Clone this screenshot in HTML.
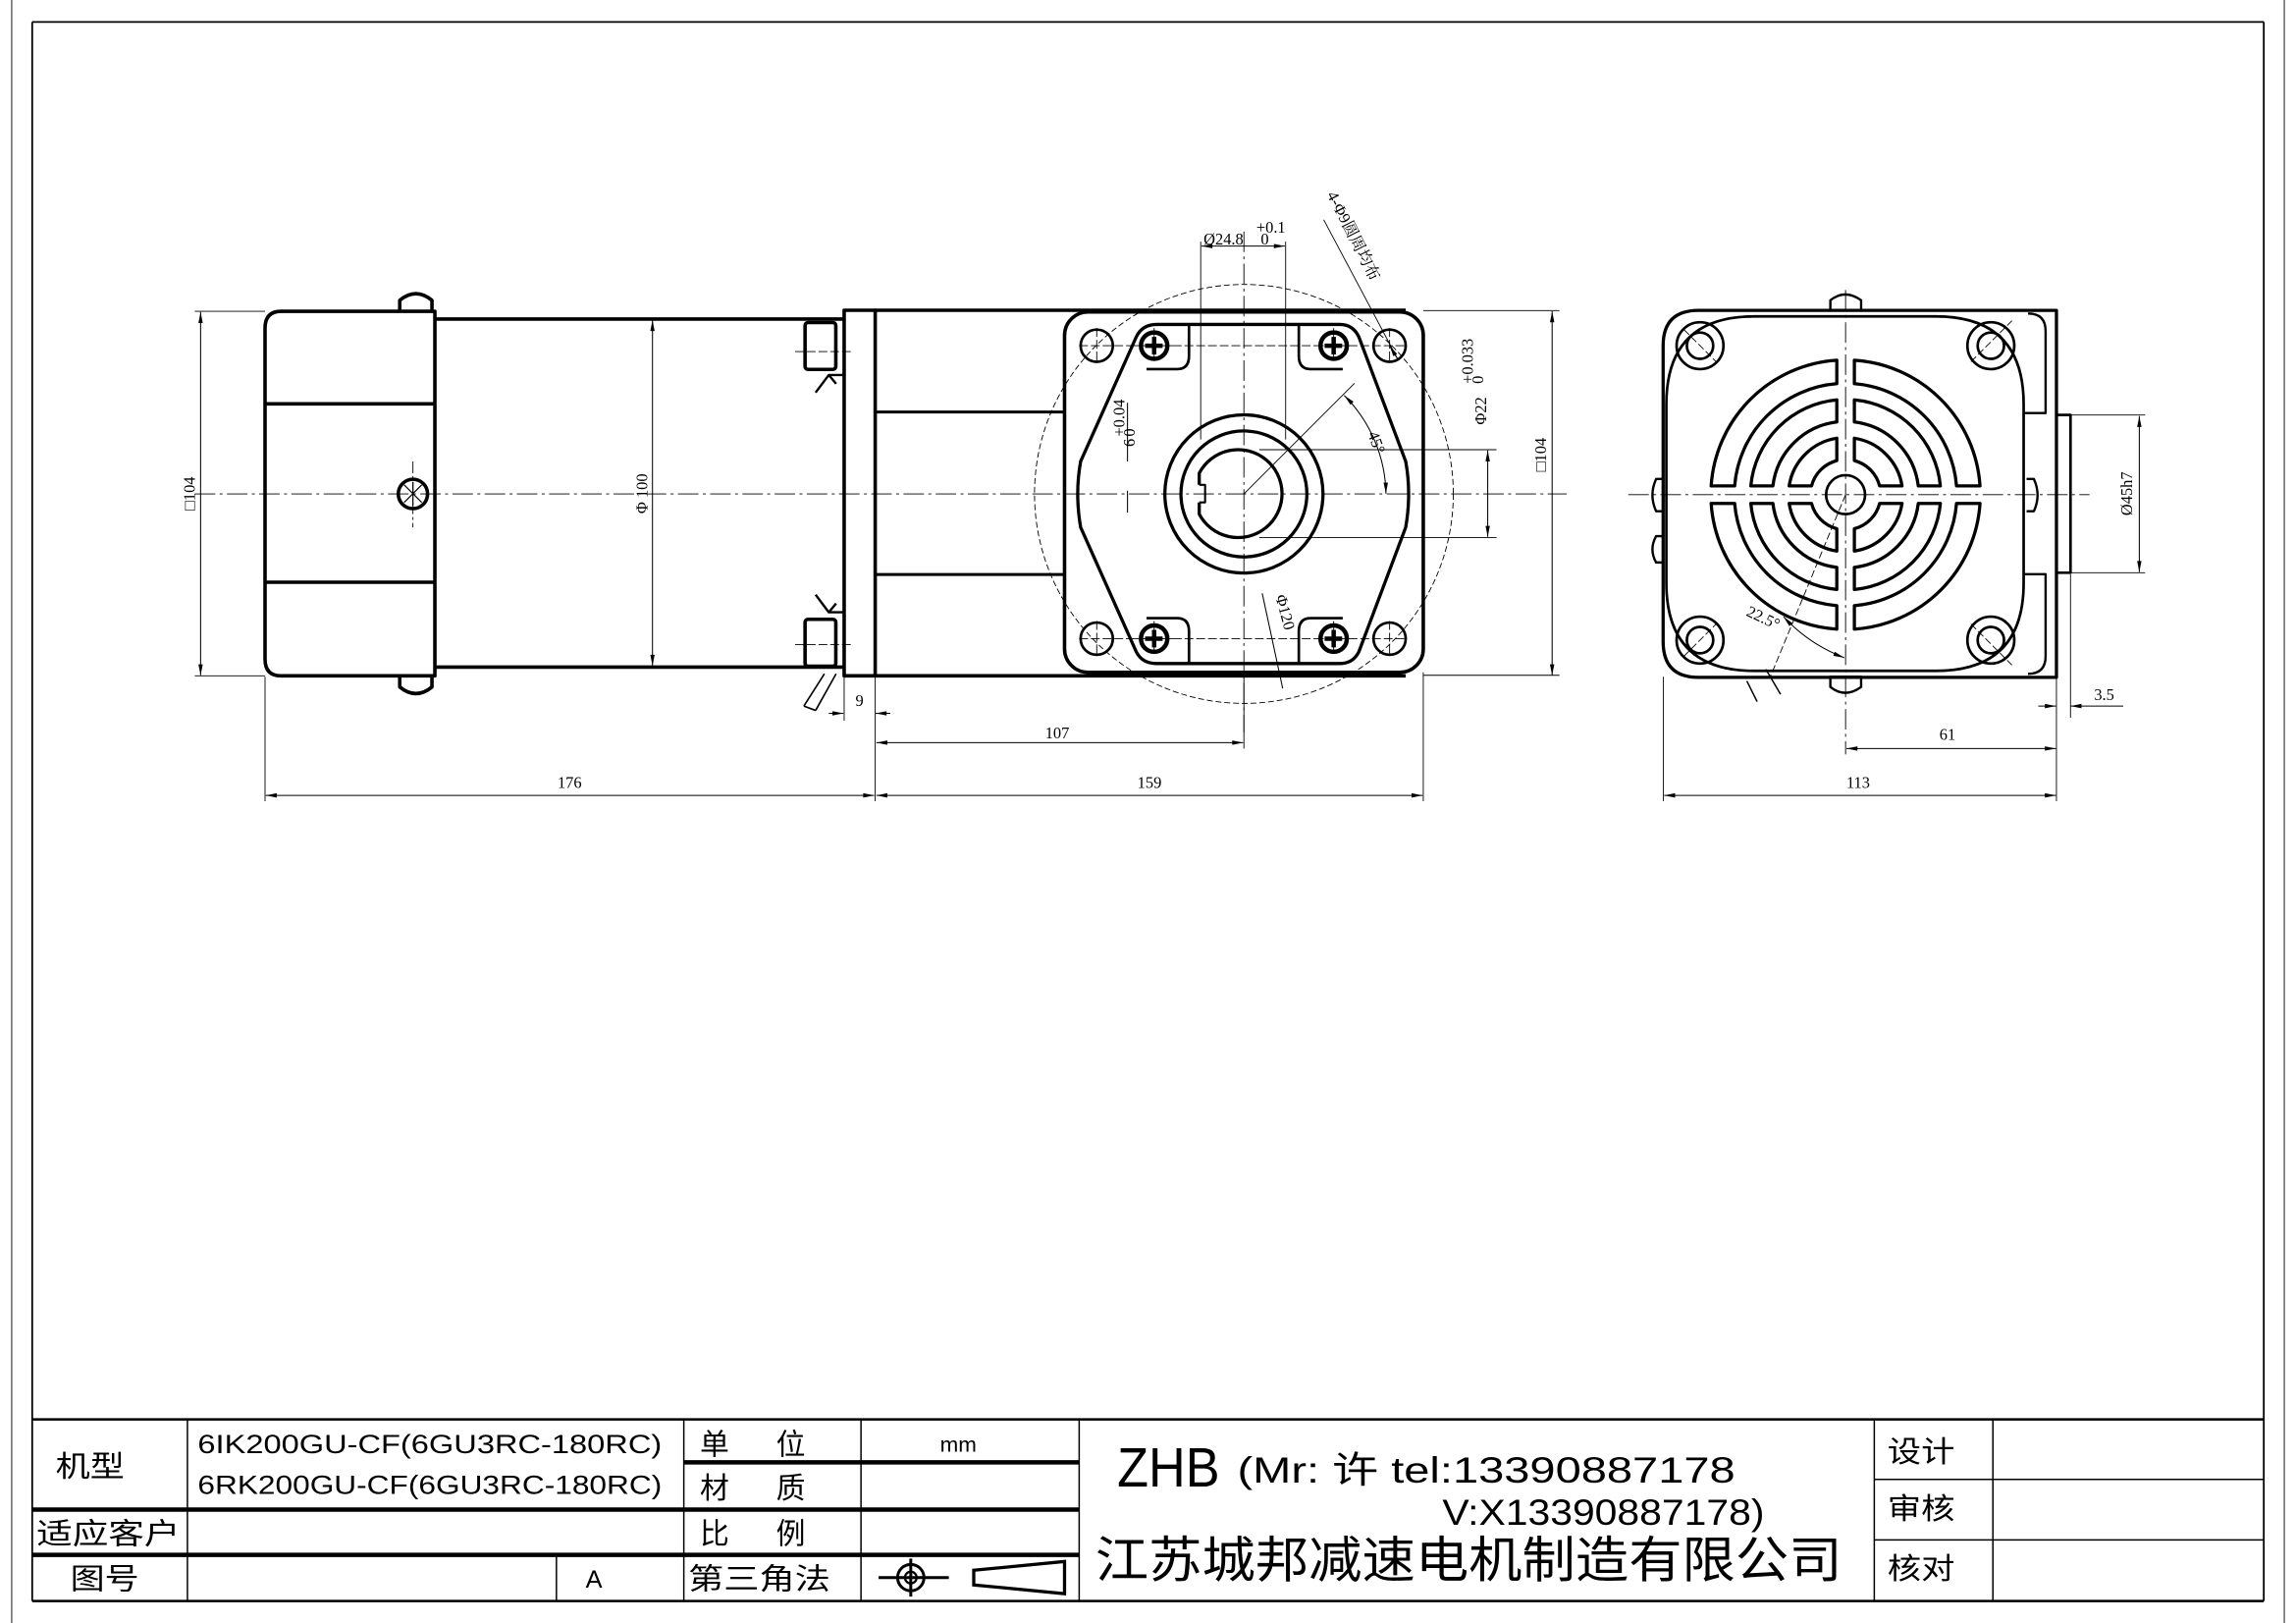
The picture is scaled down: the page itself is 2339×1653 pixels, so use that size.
<!DOCTYPE html>
<html><head><meta charset="utf-8"><style>
html,body{margin:0;padding:0;background:#fff;}
svg{display:block;}
text{font-family:"Liberation Sans","Noto Sans CJK SC",sans-serif;fill:#000;}
.dim{font-family:"Liberation Serif","Noto Serif CJK SC",serif;font-size:11px;}
</style></head><body>
<svg width="2339" height="1653" viewBox="0 0 1568 1108" preserveAspectRatio="none" xmlns="http://www.w3.org/2000/svg">
<defs>
<marker id="ar" viewBox="0 0 10 4" refX="10" refY="2" markerWidth="8" markerHeight="3" orient="auto-start-reverse" markerUnits="userSpaceOnUse"><path d="M0,0L10,2L0,4z" fill="#000"/></marker>
</defs>
<rect width="1568" height="1108" fill="#fff"/>
<g fill="none" stroke="#000">
<line x1="22" y1="15" x2="1546" y2="15" stroke-width="1.2"/>
<line x1="22" y1="15" x2="22" y2="1093" stroke-width="1.2"/>
<line x1="1546" y1="15" x2="1546" y2="1093" stroke-width="1.2"/>
<line x1="8" y1="0" x2="8" y2="1108" stroke-width="0.6"/>
<line x1="1560" y1="0" x2="1560" y2="1108" stroke-width="0.6"/>
</g>

<!-- LEFT VIEW -->
<g fill="none" stroke="#000" stroke-width="2.4" stroke-linejoin="round">
<path d="M192,212.5 L297,212.5 L297,461.4 L192,461.4 Q181,461.4 181,450 L181,224 Q181,212.5 192,212.5 Z"/>
<path d="M181,275.7 L297,275.7 M181,397.5 L297,397.5"/>
<path d="M273,212 L273,205 Q284,196 295,205 L295,212"/>
<path d="M273,462 L273,469 Q284,478 295,469 L295,462"/>
<circle cx="282" cy="337.2" r="10"/>
<path d="M297,217.8 L577,217.8 M297,455.4 L577,455.4"/>
<rect x="549.8" y="220.2" width="21" height="32" rx="2"/>
<rect x="549.8" y="422.8" width="21" height="32" rx="2"/>
<path d="M557,268 L566,256 L577,256 M566,256 L571,262" stroke-width="1.6"/>
<path d="M557,406 L566,418 L577,418 M566,418 L571,412" stroke-width="1.6"/>
<rect x="576.5" y="211.8" width="21.2" height="249.6"/>
<path d="M597.7,211.8 L960,211.8 M597.7,461.4 L960,461.4"/>
<path d="M597.7,281.3 L727,281.3 M597.7,392.2 L727,392.2" stroke-width="2"/>
<rect x="727" y="213" width="245" height="246" rx="16"/>
<path d="M790,221.5 L915,221.5 Q924,221.5 928,230 L960,315 Q964,337 960,360 L928,445 Q924,453 915,453 L790,453 Q780,453 776,445 L738,360 Q734,337 738,315 L776,230 Q780,221.5 790,221.5 Z" stroke-width="2.2"/>
<path d="M812,222 L812,243 Q812,252 804,252 L783,252" stroke-width="1.8"/>
<path d="M887,222 L887,243 Q887,252 895,252 L917,252" stroke-width="1.8"/>
<path d="M812,452 L812,431 Q812,422 804,422 L783,422" stroke-width="1.8"/>
<path d="M887,452 L887,431 Q887,422 895,422 L917,422" stroke-width="1.8"/>
<circle cx="749" cy="236" r="11" stroke-width="1.8"/>
<circle cx="949" cy="236" r="11" stroke-width="1.8"/>
<circle cx="749" cy="436" r="11" stroke-width="1.8"/>
<circle cx="949" cy="436" r="11" stroke-width="1.8"/>
<circle cx="849.5" cy="337.2" r="54" stroke-width="2.2"/>
<circle cx="849.5" cy="337.2" r="43" stroke-width="2.2"/>
<path d="M819,331 L819,323 A30,30 0 1,1 819,351 L819,343" stroke-width="2.2"/>
<path d="M819,331 L823,331 L823,343 L819,343" stroke-width="1.4"/>
</g>
<g stroke="#000" fill="none">
<circle cx="788.2" cy="236" r="9" stroke-width="3"/>
<circle cx="910.8" cy="236" r="9" stroke-width="3"/>
<circle cx="788.2" cy="436" r="9" stroke-width="3"/>
<circle cx="910.8" cy="436" r="9" stroke-width="3"/>
<path d="M782,236h12M788.2,230v12M904.6,236h12M910.8,230v12M782,436h12M788.2,430v12M904.6,436h12M910.8,430v12" stroke-width="3"/>
</g>
<g fill="none" stroke="#000" stroke-width="0.6">
<line x1="133" y1="337.2" x2="1070" y2="337.2" stroke-dasharray="14,3,2,3"/>
<line x1="849.5" y1="158" x2="849.5" y2="500" stroke-dasharray="14,3,2,3"/>
<line x1="282" y1="315" x2="282" y2="360" stroke-dasharray="8,2,2,2"/>
<circle cx="849.5" cy="337.2" r="143" stroke-dasharray="4,2"/>
<path d="M276,331l12,12M288,331l-12,12M282,329v16" stroke-width="0.8"/>
<path d="M543,240h40M543,440h40M737,236h224M737,436h224M749,224v24M949,224v24M749,424v24M949,424v24M775,236h26M898,236h26M775,436h26M898,436h26M788.2,224v24M910.8,224v24M788.2,424v24M910.8,424v24" stroke-dasharray="6,2"/>
<path d="M133,212.5H181M133,461.4H181M181,462V547M597.7,462V547M576.5,462V492M972,459V547M972,212H1065M972,461H1065M849.5,462V511"/>
<path d="M820,165V300M878,165V300M860,307H1022M860,367H1022"/>
<path d="M849.5,337.2L925,261.7"/>
</g>
<g fill="none" stroke="#000" stroke-width="0.7" marker-start="url(#ar)" marker-end="url(#ar)">
<line x1="137" y1="213" x2="137" y2="461"/>
<line x1="445.6" y1="218.5" x2="445.6" y2="454.5"/>
<line x1="181.5" y1="543" x2="597" y2="543"/>
<line x1="598.5" y1="543" x2="971.5" y2="543"/>
<line x1="598.5" y1="507" x2="849" y2="507"/>
<line x1="820.5" y1="168" x2="877.5" y2="168"/>
<line x1="1016" y1="307.5" x2="1016" y2="366.5"/>
<line x1="1060" y1="212.5" x2="1060" y2="461"/>
<path d="M918,270 A97,97 0 0,1 946.5,337"/>
</g>
<g fill="none" stroke="#000" stroke-width="0.7">
<path d="M566,487H576" marker-end="url(#ar)"/>
<path d="M608,487H598" marker-end="url(#ar)"/>
<path d="M770,275V315M770,350V335"/>
<path d="M904,150L955,246" stroke-width="0.6"/>
<path d="M955,246L949,236" marker-end="url(#ar)"/>
<path d="M862,405L876,470" stroke-width="0.7"/>
<path d="M563,460L549,482M571,460L557,485M549,482L557,485" stroke-width="1.1"/>
</g>
<text class="dim" transform="translate(133,337) rotate(-90)" text-anchor="middle">□104</text>
<text class="dim" transform="translate(442,337) rotate(-90)" text-anchor="middle">Φ 100</text>
<text class="dim" x="389" y="538" text-anchor="middle">176</text>
<text class="dim" x="785" y="538" text-anchor="middle">159</text>
<text class="dim" x="722" y="504" text-anchor="middle">107</text>
<text class="dim" x="587" y="482" text-anchor="middle">9</text>
<text class="dim" x="822" y="167" font-size="12">Ø24.8</text>
<text class="dim" x="858" y="159" font-size="7.5">+0.1</text>
<text class="dim" x="861" y="167" font-size="7.5">0</text>
<text class="dim" transform="translate(906,133) rotate(63)" font-size="12">4-Φ9圆周均布</text>
<text class="dim" transform="translate(1015,290) rotate(-90)" font-size="12">Φ22</text>
<text class="dim" transform="translate(1006,262) rotate(-90)" font-size="7.5">+0.033</text>
<text class="dim" transform="translate(1013,262) rotate(-90)" font-size="7.5">0</text>
<text class="dim" transform="translate(1056,322) rotate(-90)">□104</text>
<text class="dim" transform="translate(934,296) rotate(70)" font-size="12">45°</text>
<text class="dim" transform="translate(775,305) rotate(-90)" font-size="12">6</text>
<text class="dim" transform="translate(768,298) rotate(-90)" font-size="7.5">+0.04</text>
<text class="dim" transform="translate(775,298) rotate(-90)" font-size="7.5">0</text>
<text class="dim" transform="translate(871,407) rotate(75)">Φ120</text>

<!-- RIGHT VIEW -->
<g fill="none" stroke="#000" stroke-width="2.2" stroke-linejoin="round">
<path d="M1160,211.9 L1404.4,211.9 L1404.4,462.4 L1160,462.4 Q1135.8,462.4 1135.8,438 L1135.8,236 Q1135.8,211.9 1160,211.9 Z"/>
<path d="M1198,216 L1322,216 Q1382,216 1382,276 L1382,398 Q1382,458 1322,458 L1198,458 Q1138,458 1138,398 L1138,276 Q1138,216 1198,216 Z" stroke-width="1.8"/>
<path d="M1382,282 L1397,282 L1397,226 Q1397,214 1385,214 M1382,392 L1397,392 L1397,448 Q1397,460 1385,460" stroke-width="1.6"/>
<rect x="1404.4" y="283.3" width="9.6" height="107.7" stroke-width="1.8"/>
<circle cx="1260.4" cy="337.7" r="13.3" stroke-width="1.8"/>
<path d="M1250,212 L1250,205 Q1260,197 1271,205 L1271,212 Z M1250,462 L1250,469 Q1260,477 1271,469 L1271,462 Z" stroke-width="1.6"/>
<path d="M1136,327 L1131,327 Q1126,338 1131,349 L1136,349 M1136,366 L1131,366 Q1126,375 1131,384 L1136,384 M1384,327 L1389,327 Q1394,338 1389,349 L1384,349" stroke-width="1.6"/>
<circle cx="1161" cy="236" r="9" stroke-width="1.8"/><circle cx="1161" cy="236" r="16" stroke-width="1.8"/>
<circle cx="1359.6" cy="236" r="9" stroke-width="1.8"/><circle cx="1359.6" cy="236" r="16" stroke-width="1.8"/>
<circle cx="1161" cy="437" r="9" stroke-width="1.8"/><circle cx="1161" cy="437" r="16" stroke-width="1.8"/>
<circle cx="1359.6" cy="437" r="9" stroke-width="1.8"/><circle cx="1359.6" cy="437" r="16" stroke-width="1.8"/>
</g>
<g id="q" fill="none" stroke="#000" stroke-width="2.2" stroke-linejoin="round">
<path d="M1352.2,331.7 A92,92 0 0,0 1266.4,245.9 L1266.4,261.94 A76,76 0 0,1 1336.16,331.7 Z"/>
<path d="M1325.12,331.7 A65,65 0 0,0 1266.4,272.98 L1266.4,288.06 A50,50 0 0,1 1310.04,331.7 Z"/>
<path d="M1298.94,331.7 A39,39 0 0,0 1266.4,299.16 L1266.4,314.46 A24,24 0 0,1 1283.64,331.7 Z"/>
</g>
<use href="#q" transform="rotate(90 1260.4 337.7)"/>
<use href="#q" transform="rotate(180 1260.4 337.7)"/>
<use href="#q" transform="rotate(270 1260.4 337.7)"/>
<g fill="none" stroke="#000" stroke-width="0.6">
<line x1="1112" y1="337.7" x2="1427" y2="337.7" stroke-dasharray="14,3,2,3"/>
<line x1="1260.4" y1="198" x2="1260.4" y2="515" stroke-dasharray="14,3,2,3"/>
<path d="M1150,225l22,22M1346,247l28,-28M1150,448l22,-22M1346,426l28,28" stroke-dasharray="5,2"/>
<path d="M1260.4,337.7 L1209,462" stroke-dasharray="5,2"/>
<path d="M1136,462V547M1404.4,462V547M1414,392V490M1414,283.3H1465M1414,391H1465"/>
<path d="M1216,474L1206,457M1200,479L1193,465" stroke-width="1"/>
</g>
<g fill="none" stroke="#000" stroke-width="0.7" marker-start="url(#ar)" marker-end="url(#ar)">
<line x1="1136.5" y1="543" x2="1404" y2="543"/>
<line x1="1261" y1="511" x2="1404" y2="511"/>
<line x1="1461" y1="284" x2="1461" y2="390.5"/>
<path d="M1218,421 A110,110 0 0,0 1259.5,449"/>
</g>
<g fill="none" stroke="#000" stroke-width="0.7">
<path d="M1392,482H1404" marker-end="url(#ar)"/>
<path d="M1450,482H1414" marker-end="url(#ar)"/>
</g>
<text class="dim" x="1269" y="538" text-anchor="middle">113</text>
<text class="dim" x="1330" y="505" text-anchor="middle">61</text>
<text class="dim" x="1437" y="478" text-anchor="middle">3.5</text>
<text class="dim" transform="translate(1456,337) rotate(-90)" text-anchor="middle">Ø45h7</text>
<text class="dim" transform="translate(1192,420) rotate(25)">22.5°</text>

<!-- TITLE BLOCK -->
<g stroke="#000" fill="none">
<line x1="22" y1="969" x2="1546" y2="969" stroke-width="1.6"/>
<line x1="22" y1="1093" x2="1546" y2="1093" stroke-width="1.6"/>
<line x1="467" y1="998.3" x2="737" y2="998.3" stroke-width="3"/>
<line x1="22" y1="1030.6" x2="737" y2="1030.6" stroke-width="3"/>
<line x1="22" y1="1061.5" x2="737" y2="1061.5" stroke-width="3"/>
<line x1="1280" y1="1010" x2="1546" y2="1010" stroke-width="1"/>
<line x1="1280" y1="1051.3" x2="1546" y2="1051.3" stroke-width="1"/>
<path d="M128,969V1093M467,969V1093M588,969V1093M737,969V1093M1280,969V1093M1361,969V1093M380,1061.5V1093" stroke-width="1"/>
<circle cx="622" cy="1077" r="9" stroke-width="2"/>
<circle cx="622" cy="1077" r="4" stroke-width="1.5"/>
<path d="M600,1077H648M622,1064V1090" stroke-width="2"/>
<path d="M665,1072 L727,1066 L727,1088 L665,1082 Z" stroke-width="2.2"/>
</g>
<g font-size="20">
<text x="38" y="1008" textLength="47" lengthAdjust="spacingAndGlyphs">机型</text>
<text x="135" y="992" font-size="18" textLength="317" lengthAdjust="spacingAndGlyphs">6IK200GU-CF(6GU3RC-180RC)</text>
<text x="135" y="1020" font-size="18" textLength="317" lengthAdjust="spacingAndGlyphs">6RK200GU-CF(6GU3RC-180RC)</text>
<text x="478" y="993">单</text><text x="530" y="993">位</text>
<text x="642" y="991" font-size="14" textLength="25" lengthAdjust="spacingAndGlyphs">mm</text>
<text x="478" y="1023">材</text><text x="530" y="1023">质</text>
<text x="25" y="1054" textLength="98" lengthAdjust="spacingAndGlyphs">适应客户</text>
<text x="478" y="1054">比</text><text x="530" y="1054">例</text>
<text x="48" y="1085" textLength="47" lengthAdjust="spacingAndGlyphs">图号</text>
<text x="400" y="1084" font-size="17">A</text>
<text x="470" y="1085" textLength="97" lengthAdjust="spacingAndGlyphs">第三角法</text>
<text x="763" y="1015" font-size="38" textLength="70" lengthAdjust="spacingAndGlyphs">ZHB</text>
<text x="845" y="1012" font-size="25" textLength="340" lengthAdjust="spacingAndGlyphs">(Mr: 许 tel:13390887178</text>
<text x="985" y="1041" font-size="25" textLength="220" lengthAdjust="spacingAndGlyphs">V:X13390887178)</text>
<text x="748" y="1077" font-size="34" textLength="510" lengthAdjust="spacingAndGlyphs">江苏城邦减速电机制造有限公司</text>
<text x="1289" y="998" textLength="46" lengthAdjust="spacingAndGlyphs">设计</text>
<text x="1289" y="1037" textLength="46" lengthAdjust="spacingAndGlyphs">审核</text>
<text x="1289" y="1078" textLength="46" lengthAdjust="spacingAndGlyphs">核对</text>
</g>
</svg>
</body></html>
